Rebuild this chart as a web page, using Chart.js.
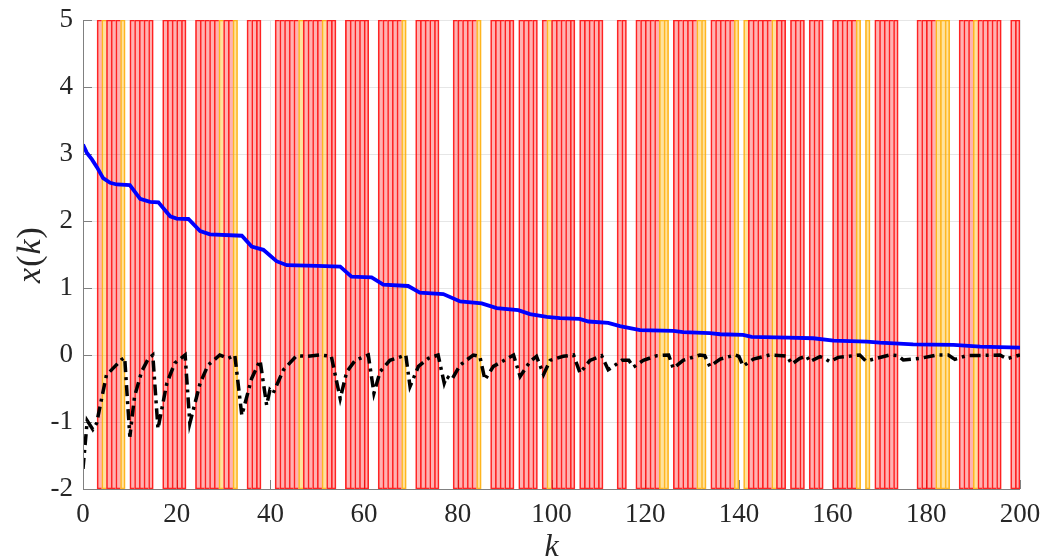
<!DOCTYPE html>
<html>
<head>
<meta charset="utf-8">
<title>x(k)</title>
<script src="https://cdn.jsdelivr.net/npm/chart.js@4.4.1/dist/chart.umd.min.js"></script>
<style>
  html, body { margin: 0; padding: 0; background: #fff; }
  canvas { display: block; }
</style>
</head>
<body>
<canvas id="stateChart" width="1043" height="559"></canvas>
<script>
// steps k with the switching mode active, each cell covers [k, k+1]
const redCells = [
  3, 5, 6, 7, 10, 11, 12, 13, 14, 17, 18, 19, 20, 21,
  24, 25, 26, 27, 28, 30, 31, 35, 36, 37,
  41, 42, 43, 44, 45, 47, 48, 49, 50, 52, 53, 56, 57, 58, 59, 60,
  63, 64, 65, 66, 67, 71, 72, 73, 74, 75, 79, 80, 81, 82, 83,
  87, 88, 89, 90, 91, 93, 94, 95, 96, 98, 100, 101, 102, 103, 104,
  106, 107, 108, 109, 110, 114, 115, 118, 119, 120, 121, 122,
  126, 127, 128, 129, 130, 134, 135, 136, 137, 138,
  142, 143, 144, 145, 146, 148, 149, 151, 152, 153, 155, 156, 157,
  160, 161, 162, 163, 164, 169, 170, 171, 172, 173, 178, 179, 180, 181,
  187, 188, 189, 191, 192, 193, 194, 195, 198, 199
];
const yellowCells = [
  4, 8, 29, 32, 46, 51, 68, 84, 99, 123, 124, 131, 132,
  139, 141, 147, 165, 167, 182, 183, 184, 190
];

// first state, sampled at the corners of the curve [k, x]
const bluePath = [
  [0, 3.14], [0.8, 3.02], [1.9, 2.92], [3, 2.80], [4.3, 2.64], [5.8, 2.57],
  [7.2, 2.545], [10, 2.535], [12.2, 2.33], [14.3, 2.285], [16.1, 2.28],
  [18.6, 2.07], [20, 2.035], [22.5, 2.03], [25, 1.85], [27.1, 1.80],
  [33.9, 1.78], [36, 1.62], [38.5, 1.57], [41.3, 1.40], [43.5, 1.34],
  [50, 1.33], [54.9, 1.32], [57.3, 1.17], [61.6, 1.16], [64.1, 1.05],
  [69.4, 1.03], [71.9, 0.93], [76.9, 0.91], [80.5, 0.80], [85.1, 0.77],
  [88.3, 0.70], [92.9, 0.67], [95.4, 0.61], [99, 0.57], [101.8, 0.55],
  [106, 0.54], [107.9, 0.50], [112.1, 0.48], [114.6, 0.43], [118.9, 0.37],
  [126, 0.36], [128.1, 0.34], [133.8, 0.325], [136, 0.31], [140.9, 0.30],
  [142.7, 0.27], [150.5, 0.26], [155.9, 0.25], [160.2, 0.215], [167.3, 0.20],
  [170.1, 0.185], [177.2, 0.16], [185.8, 0.15], [191.5, 0.125], [200, 0.11]
];

// second state [k, x]
const blackPath = [
  [0, -1.70], [0.9, -0.98], [2.1, -1.11], [2.9, -1.02], [5, -0.30], [6.4, -0.20],
  [8.2, -0.07], [8.9, -0.04], [10, -1.22], [11, -0.62], [12.5, -0.25],
  [13.9, -0.06], [14.9, 0], [16, -1.10], [17.9, -0.42], [19.6, -0.12],
  [21.8, 0], [22.8, -1.02], [25, -0.42], [26.7, -0.15], [29.2, 0],
  [31, -0.05], [32.4, 0], [33.9, -0.90], [36, -0.35], [37.8, -0.08],
  [39.2, -0.75], [39.9, -0.52], [40.6, -0.57], [42.8, -0.22], [45.6, -0.01],
  [47.7, -0.02], [50.6, 0], [53, -0.02], [54.9, -0.65], [56.3, -0.25],
  [58.1, -0.08], [60.9, 0], [62.1, -0.57], [63.4, -0.25], [65.5, -0.08],
  [68.9, 0], [69.8, -0.47], [71.6, -0.17], [73.7, -0.05], [75.8, 0],
  [77.1, -0.42], [77.6, -0.32], [78.7, -0.37], [80.5, -0.15], [83.3, 0],
  [84.7, -0.02], [85.8, -0.37], [87.6, -0.17], [91.9, 0], [93.3, -0.32],
  [95.4, -0.10], [96.8, -0.02], [98.3, -0.29], [99.7, -0.08], [102.5, -0.02],
  [104.7, 0], [106.1, -0.27], [108.2, -0.08], [110.7, -0.01], [112.1, -0.22],
  [113.6, -0.15], [115, -0.08], [116.5, -0.08], [117.5, -0.18], [119.6, -0.08],
  [122.5, -0.01], [125, 0], [126, -0.20], [128.1, -0.08], [131.7, 0],
  [132.7, -0.01], [133.8, -0.17], [136, -0.06], [139.2, 0], [140, -0.02],
  [140.9, -0.165], [143.1, -0.06], [146.6, 0], [149.3, -0.01], [150.3, -0.02],
  [151.3, -0.135], [153, -0.05], [154.5, -0.015], [155.1, -0.10], [157.3, -0.025],
  [158.3, -0.05], [159.4, -0.10], [161.2, -0.035], [165.8, 0], [167.1, -0.09],
  [169.4, -0.05], [172.2, 0], [174, -0.01], [175.1, -0.075], [178.7, -0.05],
  [182.2, 0], [184.7, 0], [186.1, -0.065], [188.6, -0.01], [195.7, 0],
  [197.2, -0.055], [200, 0]
];

// axis ranges
const kMin = 0, kMax = 200, kStep = 20;
const xMin = -2, xMax = 5, xStep = 1;

// y label pieces: [text, italic]
const yLabelParts = [['x', true], ['(', false], ['k', true], [')', false]];

const serif = '"Liberation Serif", "Times New Roman", Times, serif';

// cells span the full height of the axes
const toBand = cells => cells.map(k => ({ x: k + 0.5, y: [xMin, xMax] }));
const toPoints = path => path.map(([k, v]) => ({ x: k, y: v }));

// one edge line between neighbouring cells: skip the right edge when the next cell is filled
const activeCells = new Set([...redCells, ...yellowCells]);
const cellEdges = cells => c => {
  const k = cells[c.dataIndex];
  return { top: 1, bottom: 1, left: 1, right: activeCells.has(k + 1) ? 0 : 1 };
};

// inward ticks sit under the bands, axis lines on top
const matlabAxes = {
  id: 'matlabAxes',
  beforeDatasetsDraw(chart) {
    const { ctx, chartArea: a, scales } = chart;
    ctx.save();
    ctx.strokeStyle = '#808080';
    ctx.lineWidth = 1;
    ctx.beginPath();
    scales.x.ticks.forEach(t => {
      const px = Math.round(scales.x.getPixelForValue(t.value)) + 0.5;
      ctx.moveTo(px, a.bottom);
      ctx.lineTo(px, a.bottom - 9);
    });
    scales.y.ticks.forEach(t => {
      const py = Math.round(scales.y.getPixelForValue(t.value)) + 0.5;
      ctx.moveTo(a.left, py);
      ctx.lineTo(a.left + 9, py);
    });
    ctx.stroke();
    ctx.restore();
  },
  afterDatasetsDraw(chart) {
    const { ctx, chartArea: a } = chart;
    ctx.save();
    ctx.strokeStyle = '#808080';
    ctx.lineWidth = 1;
    ctx.beginPath();
    ctx.moveTo(a.left + 0.5, a.top);
    ctx.lineTo(a.left + 0.5, a.bottom + 0.5);
    ctx.lineTo(a.right, a.bottom + 0.5);
    ctx.stroke();
    ctx.restore();
  },
  // TeX-like y label: italic symbols, upright brackets
  afterDraw(chart) {
    const { ctx, chartArea: a } = chart;
    const fontFor = it => (it ? 'italic ' : '') + '34px ' + serif;
    ctx.save();
    ctx.translate(31, (a.top + a.bottom) / 2);
    ctx.rotate(-Math.PI / 2);
    ctx.fillStyle = '#262626';
    ctx.textBaseline = 'middle';
    ctx.textAlign = 'left';
    let total = 0;
    const widths = yLabelParts.map(([t, it]) => { ctx.font = fontFor(it); const w = ctx.measureText(t).width + 1; total += w; return w; });
    let x = -total / 2;
    yLabelParts.forEach(([t, it], i) => {
      ctx.font = fontFor(it);
      ctx.fillText(t, x, 0);
      x += widths[i];
    });
    ctx.restore();
  }
};

function drawChart() {
  const ctx = document.getElementById('stateChart');
  new Chart(ctx, {
    type: 'bar',
    data: {
      datasets: [
        {
          type: 'line',
          data: toPoints(bluePath),
          borderColor: '#0000ff',
          borderWidth: 3.8,
          pointRadius: 0,
          tension: 0,
          order: 0
        },
        {
          type: 'line',
          data: toPoints(blackPath),
          borderColor: '#000000',
          borderWidth: 3.5,
          borderDash: [11, 5, 3, 5],
          pointRadius: 0,
          tension: 0,
          order: 0
        },
        {
          data: toBand(redCells),
          backgroundColor: 'rgba(255,0,0,0.3)',
          borderColor: 'rgba(255,0,0,0.85)',
          borderWidth: cellEdges(redCells),
          borderSkipped: false,
          grouped: false,
          barPercentage: 1,
          categoryPercentage: 1,
          order: 1
        },
        {
          data: toBand(yellowCells),
          backgroundColor: 'rgba(255,180,0,0.38)',
          borderColor: 'rgba(255,170,0,0.85)',
          borderWidth: cellEdges(yellowCells),
          borderSkipped: false,
          grouped: false,
          barPercentage: 1,
          categoryPercentage: 1,
          order: 1
        }
      ]
    },
    options: {
      responsive: false,
      animation: false,
      events: [],
      layout: { padding: { top: 20, right: 23, left: 0, bottom: 0 } },
      plugins: { legend: { display: false }, tooltip: { enabled: false } },
      scales: {
        x: {
          type: 'linear',
          min: kMin, max: kMax,
          offset: false,
          grid: { color: '#e6e6e6', offset: false, drawTicks: false },
          border: { display: false },
          ticks: { stepSize: kStep, padding: 10, color: '#262626', font: { family: serif, size: 27 } },
          title: {
            display: true, text: 'k', color: '#262626',
            font: { family: serif, size: 32, style: 'italic', lineHeight: 1 },
            padding: { top: 0, bottom: -5 }
          },
          afterFit: s => { s.height = 70; s.paddingLeft = 0; s.paddingRight = 0; }
        },
        y: {
          min: xMin, max: xMax,
          grid: { color: '#e6e6e6', drawTicks: false },
          border: { display: false },
          ticks: { stepSize: xStep, padding: 10, color: '#262626', font: { family: serif, size: 27 } },
          title: { display: false },
          afterFit: s => { s.width = 83; s.paddingTop = 0; s.paddingBottom = 0; }
        }
      }
    },
    plugins: [matlabAxes]
  });
}

document.addEventListener('DOMContentLoaded', () => {
  Promise.all([
    document.fonts.load('27px "Liberation Serif"'),
    document.fonts.load('italic 32px "Liberation Serif"')
  ]).then(drawChart, drawChart);
});
</script>
</body>
</html>
